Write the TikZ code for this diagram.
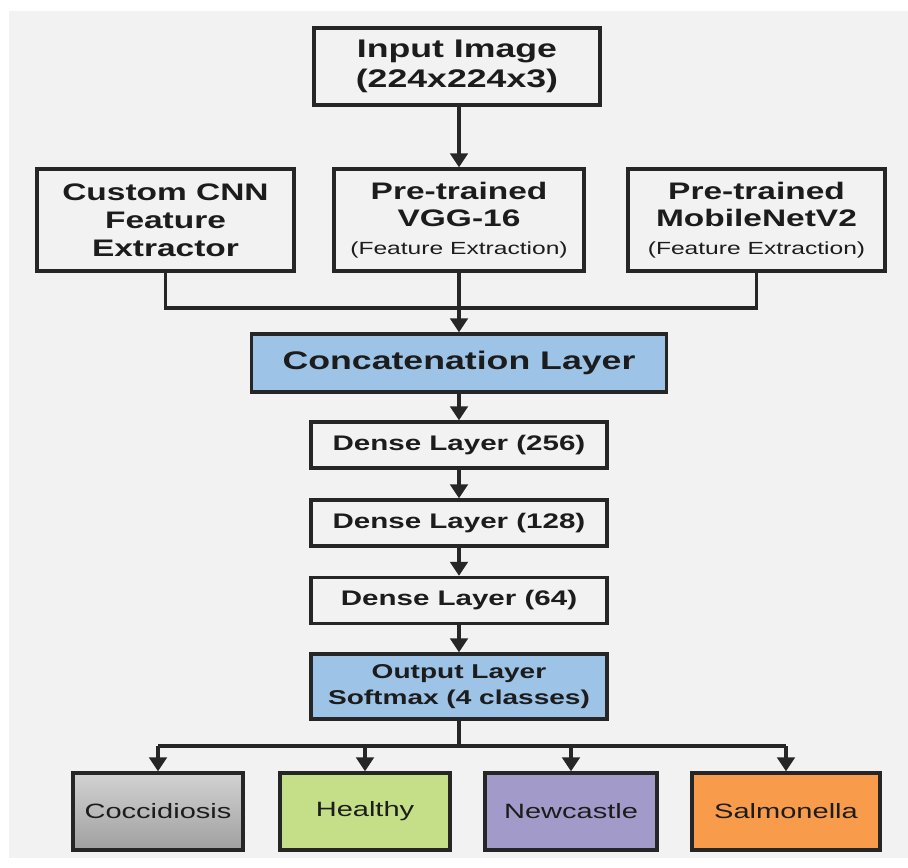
\documentclass[tikz,border=0pt]{standalone}
\usepackage{fontspec}
\setmainfont{Liberation Sans}[FakeStretch=1.4]
\usetikzlibrary{arrows.meta}
\definecolor{cline}{HTML}{262626}
\definecolor{ctext}{HTML}{1C1C1C}
\definecolor{cbg}{HTML}{F2F2F2}
\definecolor{cblue}{HTML}{9DC3E6}
\definecolor{cgreen}{HTML}{C5DF88}
\definecolor{cpurple}{HTML}{A29BC9}
\definecolor{corange}{HTML}{F89C4C}
\tikzset{
  every picture/.style={line width=1.9pt},
  box/.style={draw=cline, fill=#1, align=center, inner sep=2pt, text=ctext},
  box/.default=cbg,
  link/.style={draw=cline, line width=1.9pt},
  arrow/.style={-{Triangle[width=10pt,length=8pt]}, draw=cline, line width=1.9pt},
  big/.style={font=\bfseries\fontsize{13.6}{15.8}\selectfont},
  small/.style={font=\fontsize{10}{12}\selectfont},
}

\begin{document}
\begin{tikzpicture}[top/.style={box, big, minimum width=5.14cm, minimum height=2.04cm},
                    dense/.style={box, minimum width=5.92cm, minimum height=0.92cm, font=\bfseries\fontsize{12}{14}\selectfont},
                    cls/.style={box=#1, minimum width=3.4cm, minimum height=1.54cm, font=\fontsize{11.8}{14}\selectfont}]
  \useasboundingbox (0, 0) rectangle (18.16, -17.34);
  \fill[cbg] (0.18, -0.22) rectangle (18.16, -17.16);
  \node[box, minimum width=5.72cm, minimum height=1.54cm, font=\bfseries\fontsize{14.5}{17}\selectfont] (inp) at (9.14, -1.33) {Input Image\\(224x224x3)};
  \node[top] (cnn) at (3.31, -4.4) {Custom CNN\\Feature\\Extractor};
  \node[top, minimum width=5.0cm] (vgg) at (9.18, -4.4) {Pre-trained\\VGG-16\\{\normalfont\fontsize{10}{12}\selectfont (Feature Extraction)}};
  \node[top] (mob) at (15.13, -4.4) {Pre-trained\\MobileNetV2\\{\normalfont\fontsize{10}{12}\selectfont (Feature Extraction)}};
  \coordinate (join) at (9.18, -6.16);
  \node[box=cblue, minimum width=8.3cm, minimum height=1.16cm, font=\bfseries\fontsize{14.5}{17}\selectfont] (cat) at (9.18, -7.26) {Concatenation Layer};
  \node[dense] (d1) at (9.18, -8.9) {Dense Layer (256)};
  \node[dense] (d2) at (9.18, -10.46) {Dense Layer (128)};
  \node[dense] (d3) at (9.18, -12.01) {Dense Layer (64)};
  \node[box=cblue, minimum width=5.92cm, minimum height=1.3cm, font=\bfseries\fontsize{11.4}{15}\selectfont] (out) at (9.18, -13.73) {Output Layer\\Softmax (4 classes)};
  \coordinate (split) at (9.18, -14.92);
  \node[cls=cbg, top color=gray!35, bottom color=gray!100!black!75] (c1) at (3.16, -16.23) {Coccidiosis};
  \node[cls=cgreen] (c2) at (7.3, -16.23) {Healthy};
  \node[cls=cpurple, minimum width=3.44cm] (c3) at (11.42, -16.23) {Newcastle};
  \node[cls=corange, minimum width=3.76cm] (c4) at (15.72, -16.23) {Salmonella};
  \draw[arrow] (inp.south -| vgg) -- (vgg);
  \draw[link] (cnn.south) |- (join) -| (mob.south); \draw[link] (vgg) -- (join); \draw[arrow] (join) -- (cat);
  \draw[arrow] (cat) -- (d1); \draw[arrow] (d1) -- (d2); \draw[arrow] (d2) -- (d3); \draw[arrow] (d3) -- (out);
  \draw[link] (out) -- (split); \draw[link] (c1 |- split) -- (c4 |- split);
  \draw[arrow] (c1 |- split) -- (c1); \draw[arrow] (c2 |- split) -- (c2); \draw[arrow] (c3 |- split) -- (c3); \draw[arrow] (c4 |- split) -- (c4);
\end{tikzpicture}
\end{document}
